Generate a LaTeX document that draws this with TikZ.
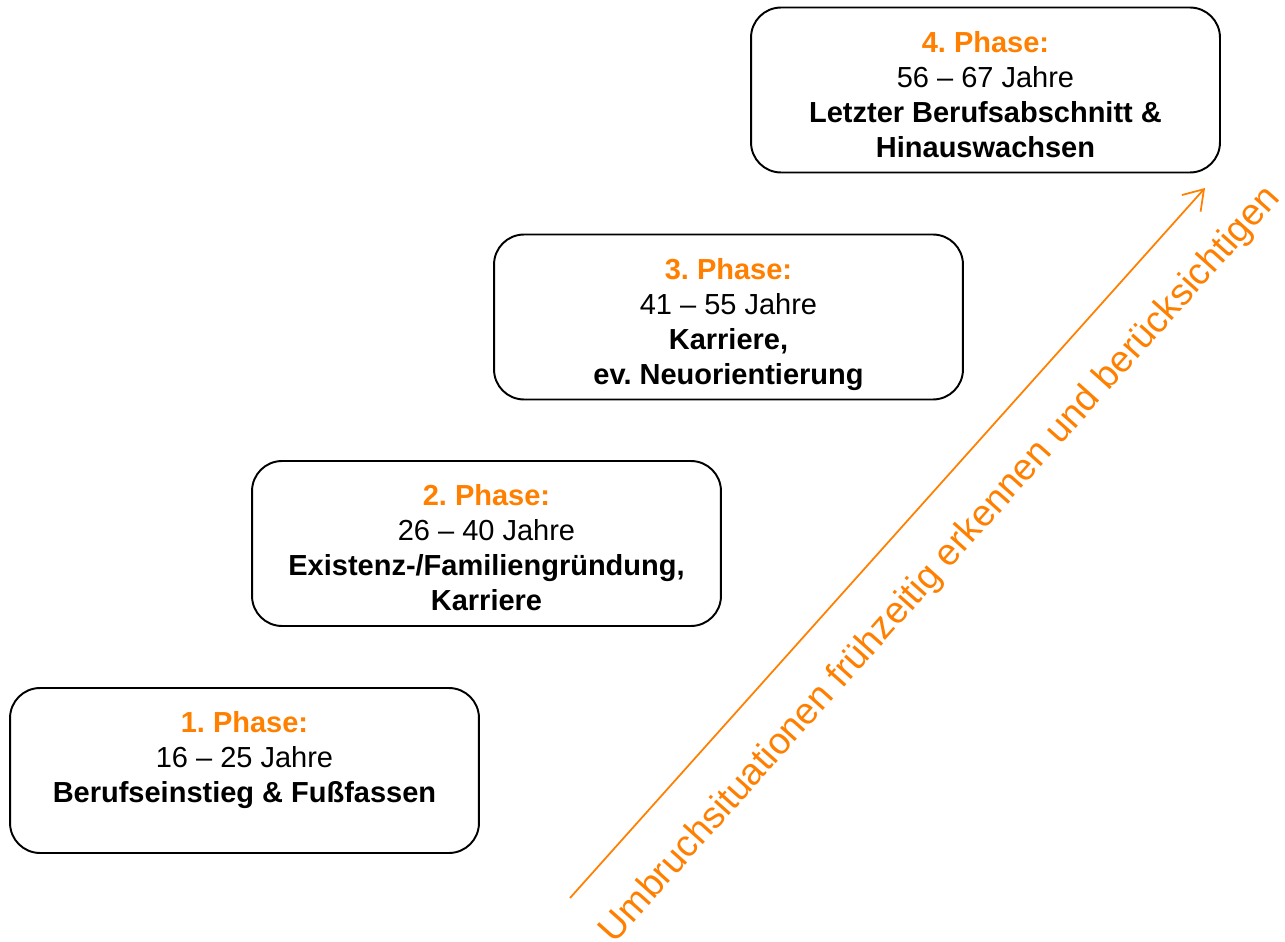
\documentclass[tikz,border=0pt]{standalone}
\usepackage{fontspec}
\setmainfont{Liberation Sans}
\usetikzlibrary{arrows.meta,positioning}
\definecolor{phaseorange}{RGB}{255,128,0}
\frenchspacing
\tikzset{
  phasebox/.style={draw, line width=1.1pt, rounded corners=0.6cm, minimum width=9.38cm, minimum height=3.3cm, inner sep=0pt},
  phasetext/.style={align=center, inner sep=0pt, font=\fontsize{16.5}{19.9}\selectfont},
  flow/.style={phaseorange, line width=1pt, -{Straight Barb[length=0.38cm, width=0.5cm, line width=1pt]}},
}
\newcommand{\phasehead}[1]{\textcolor{phaseorange}{\textbf{#1}}}
\begin{document}
\begin{tikzpicture}[x=0.02cm, y=-0.02cm]
  %Rahmen
  	\useasboundingbox (0,0) rectangle (1285,942);

  %1. Phase
  	\node[phasebox] (p1) at (244.5,770.5) {};
  	\node[phasetext, below=0.49cm of p1.north] (t1) {\phasehead{1. Phase:}\\16 – 25 Jahre\\\textbf{Berufseinstieg \& Fußfassen}};

  %2. Phase
  	\node[phasebox] (p2) at (486.5,543.5) {};
  	\node[phasetext, below=0.49cm of p2.north] (t2) {\phasehead{2. Phase:}\\26 – 40 Jahre\\\textbf{Existenz-/Familiengründung,}\\\textbf{Karriere}};

  %3. Phase
  	\node[phasebox] (p3) at (728.5,317) {};
  	\node[phasetext, below=0.49cm of p3.north] (t3) {\phasehead{3. Phase:}\\41 – 55 Jahre\\\textbf{Karriere,}\\\textbf{ev. Neuorientierung}};

  %4. Phase
  	\node[phasebox] (p4) at (985.5,90) {};
  	\node[phasetext, below=0.49cm of p4.north] (t4) {\phasehead{4. Phase:}\\56 – 67 Jahre\\\textbf{Letzter Berufsabschnitt \&}\\\textbf{Hinauswachsen}};

  %Pfeil
  	\coordinate (a0) at (570,898);
  	\coordinate (a1) at (1205,188);
  	\draw[flow] (a0) -- (a1) node[pos=0.52, sloped, below=0.72cm, inner sep=0pt, text=phaseorange, font=\fontsize{21.2}{25}\selectfont] (umbruch) {Umbruchsituationen frühzeitig erkennen und berücksichtigen};
\end{tikzpicture}
\end{document}
